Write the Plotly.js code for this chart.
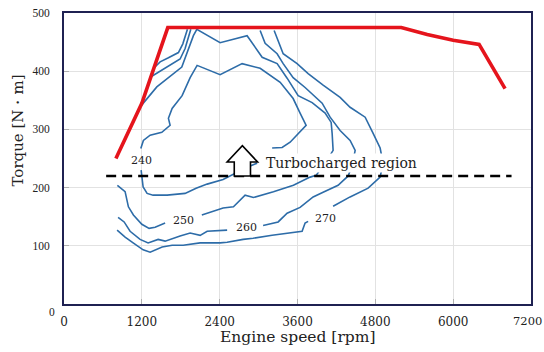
<!DOCTYPE html>
<html><head><meta charset="utf-8">
<script src="https://cdn.plot.ly/plotly-3.0.1.min.js"></script>
<style>html,body{margin:0;padding:0;background:#fff}</style>
</head><body><div id="chart" style="width:544px;height:352px"></div>
<script>
// ---- data (engine speed rpm / torque N·m) ----
const xTicks = [0,1200,2400,3600,4800,6000,7200];
const xTickText = ['0','1200','2400','3600','4800','6000',''];
const yTicks = [0,100,200,300,400,500];
const yTickText = ['', '100','200','300','400','500'];

const wotX = [800,1200,1600,5200,5600,6000,6400,6800];
const wotY = [250,345,475,475,463,453,446,370];

const turboX = [650,6900];
const turboY = [220,220];

const c240x = [1189,1220,1281,1374,1590,1867,2037,2207,2453,2639,2823,2978,null,3209,3363,3486,3610,3733,3640,3533,3333,3024,2746,2407,2052,1945,1821,1667,1610,1636,1508,1328,1224,1184];
const c240y = [230,201,190,187,187,190,199,206,214,225,235,242,null,268,269,278,293,307,328,353,381,405,413,394,410,389,358,336,319,307,295,290,281,267];

const c250x = [1184,1431,1816,1903,1995,2048,2407,2823,3055,3286,3440,3610,3826,4026,4119,4134,4149,4026,3887,3795,3537,3229,2921,2792,2612,2453,2125,null,1559,1405,1312,1200,1070,993,942,823];
const c250y = [340,373,407,433,461,472,449,461,424,413,388,358,346,328,312,293,264,242,221,218,204,193,183,187,167,165,153,null,139,132,130,137,153,167,193,204];

const c260x = [1335,1456,1610,1790,1867,1955,null,3024,3101,3286,3379,3533,3717,3980,4103,4257,4411,4489,4442,4381,4226,3995,3841,3640,3440,3302,3070,null,2515,2207,2099,1945,1790,1559,1451,1297,1173,1019,927,834];
const c260y = [390,398,409,421,439,472,null,470,448,430,413,389,372,345,321,298,281,264,238,220,204,192,184,166,156,141,135,null,127,125,118,122,117,108,111,105,111,125,141,149];

const c270x = [1390,1482,1610,1764,1832,1903,null,3240,3379,3594,3764,3995,4257,4411,4643,4766,4874,4919,4874,4689,4411,4149,null,3764,3717,3671,3440,3209,2916,2762,2515,2407,2099,1837,1667,1513,1328,1220,1066,942,819];
const c270y = [406,416,423,432,447,472,null,470,430,413,396,376,355,338,321,293,268,242,218,199,184,168,null,142,139,125,122,118,113,111,106,105,105,101,101,98,89,93,105,115,127];

const contourLabels = ['240','250','260','270'];
const labelX = [1200,1841,2819,4026];
const labelY = [247,144,132,147];

const regionText = 'Turbocharged region';
const regionX = 3080, regionY = 242;

// arrow geometry (data units)
const arrowX = 2750, arrowBase = 220, arrowTop = 272, arrowHeadBase = 244, arrowHeadHalf = 235, arrowStemHalf = 125;

// ---- drawing ----
const serif = 'DejaVu Serif';
const blue = '#2d6ca8';
const contourSets = [[c240x,c240y],[c250x,c250y],[c260x,c260y],[c270x,c270y]];
const traces = contourSets.map(([x,y]) => ({
  x, y, type:'scatter', mode:'lines', connectgaps:false,
  line:{color:blue, width:1.6}, hoverinfo:'skip'
}));
traces.push({x:wotX, y:wotY, type:'scatter', mode:'lines', line:{color:'#e5141c', width:3.6}, hoverinfo:'skip'});
traces.push({x:turboX, y:turboY, type:'scatter', mode:'lines', line:{color:'#000', width:2.4, dash:'10px,6px'}, hoverinfo:'skip'});

const arrowPath = `M ${arrowX-arrowStemHalf},${arrowBase} L ${arrowX-arrowStemHalf},${arrowHeadBase} L ${arrowX-arrowHeadHalf},${arrowHeadBase} L ${arrowX},${arrowTop} L ${arrowX+arrowHeadHalf},${arrowHeadBase} L ${arrowX+arrowStemHalf},${arrowHeadBase} L ${arrowX+arrowStemHalf},${arrowBase} Z`;

const annotations = contourLabels.map((t,i) => ({
  x: labelX[i], y: labelY[i], xref:'x', yref:'y', text:t, showarrow:false,
  font:{family:serif, size:11, color:'#222'}, xanchor:'center', yanchor:'middle'
}));
annotations.push({x:regionX, y:regionY, xref:'x', yref:'y', text:regionText, showarrow:false,
  font:{family:serif, size:14, color:'#222'}, xanchor:'left', yanchor:'middle', bgcolor:'#fff', borderpad:1});
annotations.push({x:0.5, y:-0.113, xref:'paper', yref:'paper', text:'Engine speed [rpm]', showarrow:false,
  font:{family:serif, size:15.5, color:'#222'}, xanchor:'center', yanchor:'middle'});
annotations.push({x:-0.0996, y:0.598, xref:'paper', yref:'paper', text:'Torque [N・m]', textangle:-90, showarrow:false,
  font:{family:serif, size:15, color:'#222'}, xanchor:'center', yanchor:'middle'});
annotations.push({x:0, y:0, xref:'paper', yref:'y', text:'0', showarrow:false, xshift:-7, yshift:-8,
  font:{family:'Liberation Serif', size:11.5, color:'#222'}, xanchor:'right', yanchor:'middle'});
annotations.push({x:7200, y:0, xref:'x', yref:'paper', text:'7200', showarrow:false, xshift:12, yshift:-17,
  font:{family:serif, size:11.5, color:'#222'}, xanchor:'right', yanchor:'middle', borderpad:0});

const axisCommon = {
  ticks:'inside', ticklen:5, tickcolor:'#b0b0b0', tickwidth:1,
  showgrid:true, gridcolor:'#e2e2e2', gridwidth:1,
  showline:true, mirror:true, linecolor:'#1f2152', linewidth:2, zeroline:false, fixedrange:true
};

const layout = {
  width:544, height:352,
  margin:{l:64, r:13, t:13, b:48},
  paper_bgcolor:'#fff', plot_bgcolor:'#fff', showlegend:false,
  xaxis:Object.assign({}, axisCommon, {range:[0,7200], tickmode:'array', tickvals:xTicks, ticktext:xTickText,
    tickfont:{family:serif, size:12, color:'#222'}, ticklabelstandoff:6, ticklabeloverflow:'allow'}),
  yaxis:Object.assign({}, axisCommon, {range:[0,500], tickmode:'array', tickvals:yTicks, ticktext:yTickText,
    tickfont:{family:'Liberation Serif', size:11.5, color:'#222'}, ticklabelstandoff:10, ticklabeloverflow:'allow'}),
  shapes:[{type:'path', path:arrowPath, xref:'x', yref:'y', fillcolor:'#fff', line:{color:'#000', width:1.6}, layer:'above'}],
  annotations
};
Plotly.newPlot('chart', traces, layout, {staticPlot:true, displayModeBar:false});
</script></body></html>
